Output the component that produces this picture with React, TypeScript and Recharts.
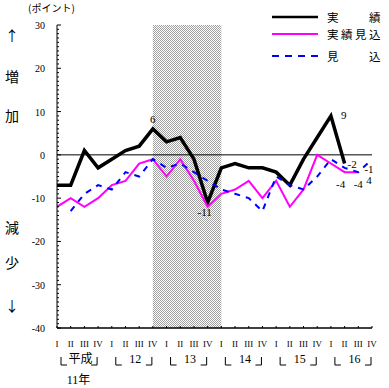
import { LineChart, Line, XAxis, YAxis, ReferenceArea, ReferenceLine, Legend } from 'recharts';

// 平成11年Ⅰ期 〜 16年Ⅳ期
const quarters = ['I', 'II', 'III', 'IV', 'I', 'II', 'III', 'IV', 'I', 'II', 'III', 'IV',
  'I', 'II', 'III', 'IV', 'I', 'II', 'III', 'IV', 'I', 'II', 'III', 'IV'];
const years = ['平成', '12', '13', '14', '15', '16'];
const yearTicks = [1.5, 5.5, 9.5, 13.5, 17.5, 21.5];
const yTicks = [30, 29, 28, 27, 26, 25, 24, 23, 22, 21, 20, 19, 18, 17, 16, 15, 14, 13, 12, 11, 10,
  9, 8, 7, 6, 5, 4, 3, 2, 1, 0, -1, -2, -3, -4, -5, -6, -7, -8, -9, -10,
  -11, -12, -13, -14, -15, -16, -17, -18, -19, -20, -21, -22, -23, -24, -25, -26, -27, -28, -29, -30,
  -31, -32, -33, -34, -35, -36, -37, -38, -39, -40];

// 実績
const actual = [-7, -7, 1, -3, -1, 1, 2, 6, 3, 4, -1, -11, -3, -2, -3, -3, -4, -7, -1, 4, 9, -2, null, null];
// 実績見込
const actualEstimate = [-12, -10, -12, -10, -7, -6, -2, -1, -5, -1, -6, -12, -9, -8, -6, -10, -6, -12, -8, 0, -2, -4, -4, null];
// 見込
const forecast = [null, -13, -9, -7, -8, -4, -5, -1, -3, -2, -4, -6, -8, -9, -10, -13, -5, -7, -8, -5, -1, -3, -4, -1];

const data = quarters.map((q, i) => ({
  i,
  q,
  actual: actual[i],
  actualEstimate: actualEstimate[i],
  forecast: forecast[i],
}));

const NUM_FONT = "'Liberation Serif', 'Noto Sans CJK JP', serif";
const JP_FONT = "'Noto Sans CJK JP', sans-serif";

const series = [
  { key: 'actual', name: '実　　績', color: '#000000', width: 3.5, dash: undefined as string | undefined },
  { key: 'actualEstimate', name: '実績見込', color: '#ff00ff', width: 2, dash: undefined },
  { key: 'forecast', name: '見　　込', color: '#0000ff', width: 2, dash: '6 6' },
];
const legendRows = [17, 34, 56];

type LabelPos = { dx: number; dy: number; anchor?: 'start' | 'middle' | 'end'; text?: string };
const labelPos: Record<string, Record<number, LabelPos[]>> = {
  actual: {
    7: [{ dx: 0, dy: -6 }],
    11: [{ dx: -3, dy: 14 }],
    20: [{ dx: 10, dy: 3, anchor: 'start' }],
    21: [{ dx: 3, dy: 4, anchor: 'start' }],
  },
  actualEstimate: {
    21: [{ dx: -4, dy: 16 }],
    22: [{ dx: 0, dy: 16 }],
  },
  forecast: {
    23: [{ dx: -3, dy: 14 }, { dx: -3, dy: 25, text: '4' }],
  },
};

const makeLabel = (key: string) => (props: any) => {
  const { x, y, index, value } = props;
  const list = labelPos[key][index];
  if (!list || value == null) return null;
  return (
    <g key={`${key}-${index}`}>
      {list.map((p, k) => (
        <text key={k} x={x + p.dx} y={y + p.dy} textAnchor={p.anchor ?? 'middle'}
          fontSize={11} fontFamily={NUM_FONT} fill="#000">
          {p.text ?? String(value)}
        </text>
      ))}
    </g>
  );
};

const YTick = (props: any) => {
  const { x, y, payload } = props;
  const v = payload.value as number;
  const major = v % 10 === 0;
  return (
    <g>
      <line x1={x} x2={x + (major ? 4 : 2)} y1={y} y2={y} stroke="#000" />
      {major && (
        <text x={x - 12} y={y + 4} textAnchor="end" fontSize={10} fontFamily={NUM_FONT} fill="#000">
          {v}
        </text>
      )}
    </g>
  );
};

const XTick = (props: any) => {
  const { x, y, payload } = props;
  const i = payload.value as number;
  const q = i % 4;
  return (
    <g>
      <line x1={x} x2={x} y1={y} y2={y - 2} stroke="#000" />
      <text x={x} y={y + 19} textAnchor="middle" fontSize={9} fontFamily={NUM_FONT} fill="#000">
        {quarters[i]}
      </text>
      {q === 0 && <path d={`M${x + 4},${y + 29} V${y + 37} H${x + 10}`} stroke="#000" fill="none" />}
      {q === 3 && <path d={`M${x - 7},${y + 37} H${x - 1} V${y + 29}`} stroke="#000" fill="none" />}
    </g>
  );
};

const YearTick = (props: any) => {
  const { x, y, index } = props;
  return (
    <g>
      <text x={x + 3} y={y + 21} textAnchor="middle" fontSize={12} fontFamily={NUM_FONT} fill="#000">
        {years[index]}
      </text>
      {index === 0 && (
        <text x={x + 1} y={y + 42} textAnchor="middle" fontSize={12} fontFamily={NUM_FONT} fill="#000">
          11年
        </text>
      )}
    </g>
  );
};

const LegendBox = () => (
  <svg width={119} height={66}>
    {series.map((s, k) => (
      <g key={s.key}>
        <line x1={2} x2={48} y1={legendRows[k]} y2={legendRows[k]} stroke={s.color}
          strokeWidth={k === 0 ? 2.5 : 2} strokeDasharray={s.dash ? '7 6' : undefined} />
        <text x={57} y={legendRows[k] + 5} fontSize={11.5} letterSpacing={2.5} fontFamily={JP_FONT} fill="#000">
          {s.name}
        </text>
      </g>
    ))}
  </svg>
);

const sideText = [
  { t: '↑', y: 41 },
  { t: '増', y: 82 },
  { t: '加', y: 121 },
  { t: '減', y: 233 },
  { t: '少', y: 268 },
  { t: '↓', y: 311 },
];

export default function App() {
  return (
    <div style={{ position: 'absolute', left: 0, top: 0, width: 389, height: 388, background: '#fff' }}>
      <LineChart width={389} height={388} data={data} margin={{ top: 25, right: 17, left: 0, bottom: 0 }}>
        <defs>
          <pattern id="dots" width="2" height="2" patternUnits="userSpaceOnUse">
            <rect width="2" height="2" fill="#ffffff" />
            <rect x="0" y="0" width="1" height="1" fill="#a0a0a0" />
            <rect x="1" y="1" width="1" height="1" fill="#a0a0a0" />
          </pattern>
        </defs>
        <XAxis dataKey="i" type="number" domain={[0, 23]} ticks={data.map(d => d.i)} interval={0}
          tick={<XTick />} tickSize={0} tickMargin={0} height={14} tickLine={false}
          axisLine={{ stroke: '#000', strokeWidth: 1.5 }} allowDataOverflow />
        <XAxis xAxisId="yr" dataKey="i" type="number" domain={[0, 23]} ticks={yearTicks} interval={0}
          tick={<YearTick />} tickSize={0} tickMargin={0} height={46} tickLine={false}
          axisLine={false} allowDataOverflow />
        <YAxis type="number" domain={[-40, 30]} ticks={yTicks} interval={0} tick={<YTick />}
          tickSize={0} tickMargin={0} width={57} tickLine={false} axisLine={{ stroke: '#000' }}
          allowDataOverflow />
        <ReferenceArea x1={7} x2={12} y1={-40} y2={30} fill="url(#dots)" fillOpacity={1} stroke="none" />
        <ReferenceLine y={0} stroke="#000" strokeWidth={1} />
        {series.map(s => (
          <Line key={s.key} type="linear" dataKey={s.key} name={s.name} stroke={s.color}
            strokeWidth={s.width} strokeDasharray={s.dash} dot={false} activeDot={false}
            isAnimationActive={false} label={makeLabel(s.key)} />
        ))}
        <Legend layout="vertical" align="center" verticalAlign="middle" content={<LegendBox />}
          wrapperStyle={{ position: 'absolute', left: 270, top: 0, width: 119, height: 66 }} />
      </LineChart>
      <svg width={389} height={388} style={{ position: 'absolute', left: 0, top: 0, pointerEvents: 'none' }}>
        <text x={28} y={12} fontSize={10} fontFamily={JP_FONT} fill="#000">(ポイント)</text>
        {sideText.map(s => (
          <text key={s.y} x={12} y={s.y} textAnchor="middle" fontSize={14} fontFamily={JP_FONT} fill="#000">
            {s.t}
          </text>
        ))}
      </svg>
    </div>
  );
}
